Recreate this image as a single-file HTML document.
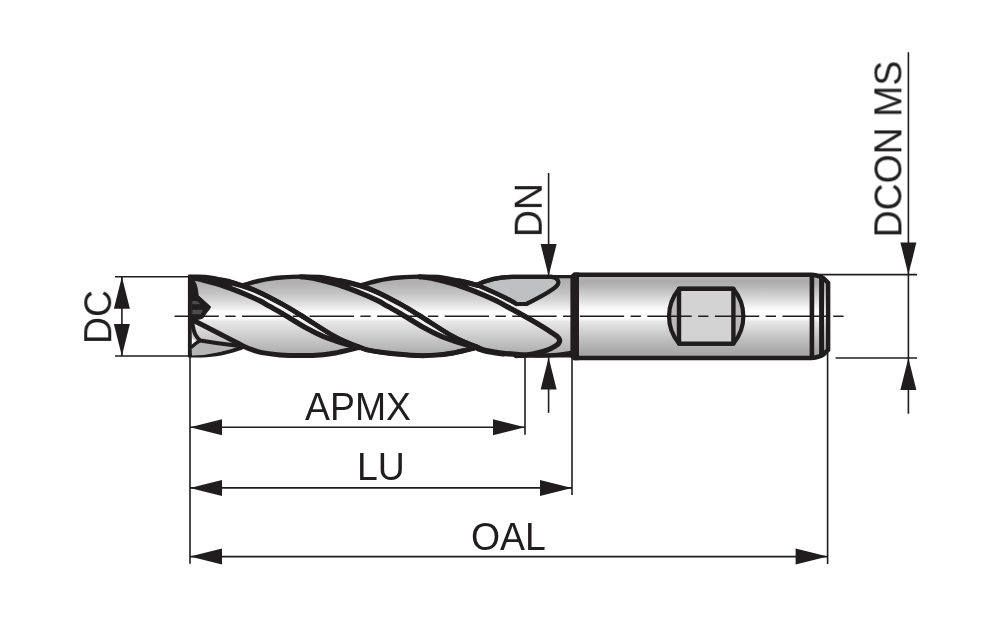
<!DOCTYPE html>
<html lang="en">
<head>
<meta charset="utf-8">
<title>End mill dimensions</title>
<style>
html,body{margin:0;padding:0;background:#fff;}
body{width:1000px;height:617px;overflow:hidden;}
svg{display:block;}
.dim line{stroke:#1f1d1e;stroke-width:1.6;fill:none;}
.arr polygon{fill:#1f1d1e;stroke:none;}
.lbl{opacity:0.999}
.lbl text{font-family:"Liberation Sans",Arial,Helvetica,sans-serif;font-size:37.4px;fill:#1f1d1e;}
</style>
</head>
<body>
<svg width="1000" height="617" viewBox="0 0 1000 617">
<rect x="0" y="0" width="1000" height="617" fill="#ffffff"/>
<defs>
<linearGradient id="gb" x1="0" y1="277" x2="0" y2="356" gradientUnits="userSpaceOnUse">
<stop offset="0" stop-color="#aeaeae"/>
<stop offset="0.08" stop-color="#b2b2b2"/>
<stop offset="0.2" stop-color="#c2c2c2"/>
<stop offset="0.3" stop-color="#d6d6d6"/>
<stop offset="0.39" stop-color="#ededed"/>
<stop offset="0.45" stop-color="#ffffff"/>
<stop offset="0.52" stop-color="#ffffff"/>
<stop offset="0.56" stop-color="#e8e8e8"/>
<stop offset="0.67" stop-color="#d8d8d8"/>
<stop offset="0.81" stop-color="#c4c4c4"/>
<stop offset="0.91" stop-color="#b6b6b6"/>
<stop offset="1" stop-color="#acacac"/>
</linearGradient>
<linearGradient id="gs" x1="0" y1="277" x2="0" y2="356" gradientUnits="userSpaceOnUse">
<stop offset="0" stop-color="#b8b8b8"/>
<stop offset="0.05" stop-color="#ababab"/>
<stop offset="0.1" stop-color="#b2b2b2"/>
<stop offset="0.18" stop-color="#c4c4c4"/>
<stop offset="0.28" stop-color="#dbdbdb"/>
<stop offset="0.37" stop-color="#f1f1f1"/>
<stop offset="0.43" stop-color="#ffffff"/>
<stop offset="0.52" stop-color="#ffffff"/>
<stop offset="0.56" stop-color="#e8e8e8"/>
<stop offset="0.67" stop-color="#d4d4d4"/>
<stop offset="0.81" stop-color="#bcbcbc"/>
<stop offset="0.91" stop-color="#aeaeae"/>
<stop offset="1" stop-color="#a4a4a4"/>
</linearGradient>
</defs>
<g id="tool" stroke="#1f1d1e" stroke-linejoin="round" stroke-linecap="round" fill="none">
<path d="M189.90 276.80 C192.42 276.83 199.90 276.55 205.00 277.00 C210.10 277.45 216.00 278.67 220.50 279.50 C225.00 280.33 228.53 281.15 232.00 282.00 C235.47 282.85 239.75 284.17 241.30 284.60 C243.80 285.02 247.67 283.83 250.30 283.10 C252.93 282.37 255.13 281.70 258.30 281.00 C261.47 280.30 265.47 279.47 269.30 278.90 C273.13 278.32 276.13 277.93 281.30 277.55 C286.47 277.18 293.85 276.73 300.30 276.65 C306.75 276.57 313.33 276.38 320.00 277.05 C326.67 277.73 333.68 279.29 340.30 280.70 C346.92 282.11 356.47 284.70 359.70 285.50 C362.10 285.02 365.97 283.83 368.60 283.10 C371.23 282.37 373.43 281.70 376.60 281.00 C379.77 280.30 383.77 279.47 387.60 278.90 C391.43 278.32 394.43 277.93 399.60 277.55 C404.77 277.18 412.15 276.73 418.60 276.65 C425.05 276.57 431.63 276.38 438.30 277.05 C444.97 277.73 451.98 279.29 458.60 280.70 C465.22 282.11 474.77 284.70 478.00 285.50 C477.83 284.35 480.80 282.52 483.00 281.60 C485.20 280.68 487.17 280.07 490.00 279.40 C492.83 278.73 496.33 278.02 500.00 277.60 C503.67 277.18 510.00 277.02 512.00 276.90 L572 276.8 L572 355.85 L530 355.85 C527.67 355.79 520.42 355.73 516.00 355.50 C511.58 355.27 507.83 354.98 503.50 354.50 C499.17 354.02 494.32 353.47 490.00 352.60 C485.68 351.73 479.67 349.85 477.60 349.30 C475.77 347.85 470.27 349.23 466.60 350.10 C462.93 350.97 459.77 351.83 455.60 352.60 C451.43 353.37 447.77 354.20 441.60 354.70 C435.43 355.20 428.27 355.95 418.60 355.60 C408.93 355.25 392.15 353.57 383.60 352.60 C375.05 351.63 371.30 350.73 367.30 349.80 C363.30 348.87 360.88 347.47 359.60 347.00 C357.47 347.85 351.97 349.23 348.30 350.10 C344.63 350.97 341.47 351.83 337.30 352.60 C333.13 353.37 329.47 354.20 323.30 354.70 C317.13 355.20 309.97 355.95 300.30 355.60 C290.63 355.25 273.85 353.57 265.30 352.60 C256.75 351.63 253.00 350.73 249.00 349.80 C245.00 348.87 242.58 347.47 241.30 347.00 C240.42 348.10 238.55 348.83 236.00 349.60 C233.45 350.37 229.33 351.62 226.00 352.40 C222.67 353.18 219.83 353.78 216.00 354.30 C212.17 354.82 207.35 355.32 203.00 355.50 C198.65 355.68 192.08 355.42 189.90 355.40 Z" fill="url(#gb)" stroke="none"/>
<path d="M222.15 280.70 C225.38 281.50 235.48 283.63 241.55 285.50 C247.62 287.37 251.83 288.83 258.55 291.90 C265.27 294.97 274.87 300.05 281.85 303.90 C288.83 307.75 291.80 309.65 300.45 315.00 C309.10 320.35 327.47 331.93 333.75 336.00 C340.03 340.07 337.42 338.83 338.15 339.40 L338.15 339.40 C337.65 339.63 337.65 341.30 335.15 340.80 C332.65 340.30 327.87 338.48 323.15 336.40 C318.43 334.32 313.73 332.17 306.85 328.30 C299.97 324.43 287.99 316.82 281.85 313.20 C275.71 309.58 273.72 308.68 270.00 306.60 C266.28 304.52 263.62 302.73 259.55 300.70 C255.48 298.67 250.22 296.38 245.55 294.40 C240.88 292.42 236.22 290.55 231.55 288.80 C226.88 287.05 219.88 284.72 217.55 283.90 Z" fill="#f2f2f2" stroke="none"/>
<path d="M340.30 280.70 C343.53 281.50 353.63 283.63 359.70 285.50 C365.77 287.37 369.98 288.83 376.70 291.90 C383.42 294.97 393.02 300.05 400.00 303.90 C406.98 307.75 409.95 309.65 418.60 315.00 C427.25 320.35 445.62 331.93 451.90 336.00 C458.18 340.07 455.57 338.83 456.30 339.40 L456.30 339.40 C455.80 339.63 455.80 341.30 453.30 340.80 C450.80 340.30 446.02 338.48 441.30 336.40 C436.58 334.32 431.88 332.17 425.00 328.30 C418.12 324.43 406.14 316.82 400.00 313.20 C393.86 309.58 391.87 308.68 388.15 306.60 C384.43 304.52 381.78 302.73 377.70 300.70 C373.63 298.67 368.37 296.38 363.70 294.40 C359.03 292.42 354.37 290.55 349.70 288.80 C345.03 287.05 338.03 284.72 335.70 283.90 Z" fill="#f2f2f2" stroke="none"/>
<path d="M458.60 280.70 C461.83 281.50 472.77 283.85 478.00 285.50 C483.23 287.15 485.83 288.75 490.00 290.60 C494.17 292.45 499.00 294.60 503.00 296.60 C507.00 298.60 512.17 301.60 514.00 302.60 L516.00 311.20 C514.50 310.43 510.33 308.35 507.00 306.60 C503.67 304.85 500.17 302.73 496.00 300.70 C491.83 298.67 486.67 296.38 482.00 294.40 C477.33 292.42 472.67 290.55 468.00 288.80 C463.33 287.05 456.33 284.72 454.00 283.90 Z" fill="#f2f2f2" stroke="none"/>
<path d="M476.8 284.9 C488 279.6 498 277.1 512 276.9 L551 276.9 C556.5 277.2 559.6 280.6 557.8 284.4 C555 289.2 545 294.8 526.3 304 L516.5 304 C503 296.6 490 290.6 476.8 284.9 Z" fill="#bfc0c1" stroke-width="4.2"/>
<path d="M191.50 319.40 C193.75 320.55 199.92 323.70 205.00 326.30 C210.08 328.90 216.83 332.35 222.00 335.00 C227.17 337.65 232.50 340.38 236.00 342.20 C239.50 344.02 240.33 344.65 243.00 345.90 C245.67 347.15 248.83 348.58 252.00 349.70 C255.17 350.82 257.33 351.73 262.00 352.60 C266.67 353.47 273.62 354.40 280.00 354.90 C286.38 355.40 293.08 355.63 300.30 355.60 C307.52 355.57 317.13 355.20 323.30 354.70 C329.47 354.20 333.13 353.37 337.30 352.60 C341.47 351.83 344.63 350.97 348.30 350.10 C351.97 349.23 357.47 347.85 359.30 347.40" stroke-width="5.0"/>
<path d="M189.90 355.40 C192.08 355.42 198.65 355.68 203.00 355.50 C207.35 355.32 212.17 354.82 216.00 354.30 C219.83 353.78 222.67 353.18 226.00 352.40 C229.33 351.62 233.45 350.37 236.00 349.60 C238.55 348.83 240.42 348.10 241.30 347.80" stroke-width="4.0"/>
<path d="M189.90 276.80 C192.42 276.83 199.90 276.55 205.00 277.00 C210.10 277.45 216.00 278.67 220.50 279.50 C225.00 280.33 228.49 281.00 232.00 282.00 C235.51 283.00 237.12 283.85 241.55 285.50 C245.98 287.15 251.83 288.83 258.55 291.90 C265.27 294.97 274.87 300.05 281.85 303.90 C288.83 307.75 291.80 309.65 300.45 315.00 C309.10 320.35 325.80 331.37 333.75 336.00 C341.70 340.63 343.92 340.97 348.15 342.80 C352.38 344.63 356.03 345.83 359.15 347.00 C362.27 348.17 362.85 348.87 366.85 349.80 C370.85 350.73 374.60 351.63 383.15 352.60 C391.70 353.57 408.48 355.25 418.15 355.60 C427.82 355.95 434.98 355.20 441.15 354.70 C447.32 354.20 450.98 353.37 455.15 352.60 C459.32 351.83 462.48 350.97 466.15 350.10 C469.82 349.23 475.32 347.85 477.15 347.40" stroke-width="4.4"/>
<path d="M193.15 277.90 C194.88 278.28 199.48 279.20 203.55 280.20 C207.62 281.20 212.88 282.47 217.55 283.90 C222.22 285.33 226.88 287.05 231.55 288.80 C236.22 290.55 240.88 292.42 245.55 294.40 C250.22 296.38 255.48 298.67 259.55 300.70 C263.62 302.73 266.28 304.52 270.00 306.60 C273.72 308.68 275.71 309.58 281.85 313.20 C287.99 316.82 299.97 324.43 306.85 328.30 C313.73 332.17 318.43 334.32 323.15 336.40 C327.87 338.48 330.87 339.37 335.15 340.80 C339.43 342.23 344.85 343.87 348.85 345.00 C352.85 346.13 357.43 347.17 359.15 347.60" stroke-width="5.2"/>
<path d="M196.40 277.78 C197.34 277.89 200.15 278.15 202.03 278.47 C203.90 278.79 205.78 279.28 207.65 279.69 C209.53 280.10 211.40 280.51 213.28 280.94 C215.15 281.36 217.03 281.76 218.90 282.24 C220.78 282.72 222.65 283.27 224.53 283.81 C226.40 284.36 229.21 285.21 230.15 285.49" stroke-width="3.6" stroke-linecap="round"/>
<path d="M303.30 276.87 C304.24 276.93 307.05 277.08 308.93 277.23 C310.80 277.38 312.68 277.57 314.55 277.78 C316.43 277.99 318.30 278.15 320.18 278.47 C322.05 278.79 323.93 279.28 325.80 279.69 C327.68 280.10 329.55 280.51 331.43 280.94 C333.30 281.36 335.18 281.76 337.05 282.24 C338.93 282.72 340.80 283.27 342.68 283.81 C344.55 284.36 347.36 285.21 348.30 285.49" stroke-width="3.6" stroke-linecap="round"/>
<path d="M421.60 276.87 C422.54 276.93 425.35 277.08 427.23 277.23 C429.10 277.38 430.98 277.57 432.85 277.78 C434.73 277.99 436.60 278.15 438.48 278.47 C440.35 278.79 442.23 279.28 444.10 279.69 C445.98 280.10 447.85 280.51 449.73 280.94 C451.60 281.36 453.48 281.76 455.35 282.24 C457.23 282.72 459.10 283.27 460.98 283.81 C462.85 284.36 465.66 285.21 466.60 285.49" stroke-width="3.6" stroke-linecap="round"/>
<path d="M222.15 280.70 C228.77 282.11 235.48 283.63 241.55 285.50 C247.62 287.37 251.83 288.83 258.55 291.90 C265.27 294.97 274.87 300.05 281.85 303.90 C288.83 307.75 291.80 309.65 300.45 315.00 C309.10 320.35 325.80 331.37 333.75 336.00 C341.70 340.63 343.92 340.97 348.15 342.80 C352.38 344.63 356.03 345.83 359.15 347.00 C362.27 348.17 362.85 348.87 366.85 349.80 C370.85 350.73 374.60 351.63 383.15 352.60 C391.70 353.57 408.48 355.25 418.15 355.60 C427.82 355.95 434.98 355.20 441.15 354.70 C447.32 354.20 450.98 353.37 455.15 352.60 C459.32 351.83 462.48 350.97 466.15 350.10 C469.82 349.23 475.32 347.85 477.15 347.40" stroke-width="5.0"/>
<path d="M340.30 280.70 C346.92 282.11 353.63 283.63 359.70 285.50 C365.77 287.37 369.98 288.83 376.70 291.90 C383.42 294.97 393.02 300.05 400.00 303.90 C406.98 307.75 409.95 309.65 418.60 315.00 C427.25 320.35 443.95 331.37 451.90 336.00 C459.85 340.63 462.07 340.97 466.30 342.80 C470.53 344.63 474.18 345.83 477.30 347.00" stroke-width="5.0"/>
<path d="M458.60 280.70 C465.22 282.11 471.93 283.63 478.00 285.50" stroke-width="5.0"/>
<path d="M242.50 285.40 C243.80 285.02 247.67 283.83 250.30 283.10 C252.93 282.37 255.13 281.70 258.30 281.00 C261.47 280.30 265.47 279.47 269.30 278.90 C273.13 278.32 276.13 277.93 281.30 277.55 C286.47 277.18 293.85 276.73 300.30 276.65 C306.75 276.57 313.33 276.38 320.00 277.05 C326.67 277.73 333.68 279.29 340.30 280.70 C346.92 282.11 353.63 283.63 359.70 285.50 C365.77 287.37 369.98 288.83 376.70 291.90 C383.42 294.97 393.02 300.05 400.00 303.90 C406.98 307.75 409.95 309.65 418.60 315.00 C427.25 320.35 443.95 331.37 451.90 336.00 C459.85 340.63 462.07 340.97 466.30 342.80 C470.53 344.63 474.18 345.83 477.30 347.00 C480.42 348.17 481.00 348.87 485.00 349.80 C489.00 350.73 492.75 351.63 501.30 352.60 C509.85 353.57 526.63 355.25 536.30 355.60 C545.97 355.95 553.13 355.20 559.30 354.70 C565.47 354.20 569.13 353.37 573.30 352.60 C577.47 351.83 580.63 350.97 584.30 350.10 C587.97 349.23 593.47 347.85 595.30 347.40" stroke-width="4.4"/>
<path d="M301.30 276.80 C302.97 276.98 307.90 277.33 311.30 277.90 C314.70 278.47 317.63 279.20 321.70 280.20 C325.77 281.20 331.03 282.47 335.70 283.90 C340.37 285.33 345.03 287.05 349.70 288.80 C354.37 290.55 359.03 292.42 363.70 294.40 C368.37 296.38 373.63 298.67 377.70 300.70 C381.78 302.73 384.43 304.52 388.15 306.60 C391.87 308.68 393.86 309.58 400.00 313.20 C406.14 316.82 418.12 324.43 425.00 328.30 C431.88 332.17 436.58 334.32 441.30 336.40 C446.02 338.48 449.02 339.37 453.30 340.80 C457.58 342.23 463.00 343.87 467.00 345.00 C471.00 346.13 475.58 347.17 477.30 347.60" stroke-width="5.2"/>
<path d="M360.80 285.40 C362.10 285.02 365.97 283.83 368.60 283.10 C371.23 282.37 373.43 281.70 376.60 281.00 C379.77 280.30 383.77 279.47 387.60 278.90 C391.43 278.32 394.43 277.93 399.60 277.55 C404.77 277.18 412.15 276.73 418.60 276.65 C425.05 276.57 431.63 276.38 438.30 277.05 C444.97 277.73 451.98 279.29 458.60 280.70 C465.22 282.11 472.77 283.85 478.00 285.50 C483.23 287.15 485.83 288.75 490.00 290.60 C494.17 292.45 499.33 294.83 503.00 296.60 C506.67 298.37 509.75 299.97 512.00 301.20 C514.25 302.43 515.75 303.53 516.50 304.00" stroke-width="4.4"/>
<path d="M419.60 276.80 C421.27 276.98 426.20 277.33 429.60 277.90 C433.00 278.47 435.93 279.20 440.00 280.20 C444.07 281.20 449.33 282.47 454.00 283.90 C458.67 285.33 463.33 287.05 468.00 288.80 C472.67 290.55 477.33 292.42 482.00 294.40 C486.67 296.38 491.83 298.67 496.00 300.70 C500.17 302.73 503.00 304.45 507.00 306.60 C511.00 308.75 515.95 311.37 520.00 313.60 C524.05 315.83 527.47 317.77 531.30 320.00 C535.13 322.23 539.55 324.87 543.00 327.00 C546.45 329.13 549.57 331.17 552.00 332.80 C554.43 334.43 556.33 335.62 557.60 336.80 C558.87 337.98 559.40 338.87 559.60 339.90 C559.80 340.93 559.40 342.05 558.80 343.00 C558.20 343.95 557.72 344.50 556.00 345.60 C554.28 346.70 551.50 348.40 548.50 349.60 C545.50 350.80 541.50 351.93 538.00 352.80 C534.50 353.67 531.17 354.33 527.50 354.80 C523.83 355.27 517.92 355.47 516.00 355.60" stroke-width="5.2"/>
<path d="M476.8 284.9 C488 279.6 498 277.1 512 276.9 L552 276.9" stroke-width="4.2"/>
<path d="M548 276.65 L572 276.65" stroke-width="3.3" stroke-linecap="butt"/>
<path d="M477.60 349.30 C479.67 349.85 485.68 351.73 490.00 352.60 C494.32 353.47 501.25 354.18 503.50 354.50" stroke-width="4.0"/>
<path d="M503.50 354.50 C505.58 354.67 511.58 355.27 516.00 355.50 C520.42 355.73 527.67 355.79 530.00 355.85 L572 355.85" stroke-width="3.3" stroke-linecap="butt"/>
<path d="M189.8 276.8 L189.8 355.4" stroke-width="3.8" stroke-linecap="square"/>
<path d="M190 277 L193.5 279.5 C196 283 197.6 288 198.2 295.5 L210.6 306.8 C210.2 309 205.6 313.2 203.8 316.8 L202.2 318.5 L192 320.5 Z" fill="#1f1d1e" stroke-width="1"/>
<path d="M192.3 301.0 L197 301.0 L200.3 304.2 L192.3 304.2 Z M192.3 309.8 L203 309.8 L200.8 314.2 L192.3 314.2 Z" fill="#4c4c4c" stroke="none"/>
<path d="M192 347 L200.3 341 L236 345.5 L232 348.5 L220 352 L204 355 L192 355.5 Z" fill="#b6b6b6" stroke="none"/>
<path d="M192.2 320.9 C192.6 326 193.6 331 195.4 334.6 C196.8 337.2 198.4 339 200.3 340.6 L218 343.2 L238 345.8" fill="none" stroke-width="4.0"/>
<path d="M192 346.8 C194.6 344.4 197.4 342.2 200.3 340.6" stroke-width="3.4"/>
<path d="M192.0 338.0 L195.8 341.0 L192.0 344.0 Z" fill="#ffffff" stroke="none"/>
</g>
<g stroke="#1f1d1e" stroke-linejoin="round" fill="none">
<path d="M574.7 274.7 L811.7 274.7 C817 275.2 821 276.5 823.5 278.3 L828.1 282.8 L828.1 349.9 L823.5 354.4 C821 356.2 817 357.5 811.7 358 L574.7 358 Z" fill="url(#gs)" stroke-width="4.5"/>
<path d="M570.4 275.4 L573.6 272.45 L579 272.45 L579 360.25 L573.6 360.25 L570.4 357.3 Z" fill="#1f1d1e" stroke="none"/>
<path d="M811.9 274.7 L811.9 358" stroke-width="4.6"/>
<path d="M821.6 278 L821.6 354.7" stroke-width="5.0"/>
<path d="M679 288.8 C665.7 305 665.7 327.4 679 343.6 L733.4 343.6 C746.7 327.4 746.7 305 733.4 288.8 Z" fill="#b9b9b9" stroke-width="4.2"/>
<rect x="679" y="288.8" width="54.4" height="54.8" fill="#d3d3d3" stroke-width="4.4"/>
</g>
<line x1="174.5" y1="316.3" x2="844.6" y2="316.3" stroke="#1f1d1e" stroke-width="1.6" stroke-dasharray="44.35 6.43 10.34 6.43"/>
<g class="dim">
<line x1="190.00" y1="357.00" x2="190.00" y2="563.80"/>
<line x1="525.00" y1="357.00" x2="525.00" y2="434.80"/>
<line x1="572.00" y1="357.00" x2="572.00" y2="495.00"/>
<line x1="827.60" y1="352.00" x2="827.60" y2="564.00"/>
<line x1="190.00" y1="427.30" x2="525.00" y2="427.30"/>
<line x1="190.00" y1="487.90" x2="572.00" y2="487.90"/>
<line x1="190.00" y1="556.60" x2="827.60" y2="556.60"/>
<line x1="115.00" y1="276.80" x2="190.00" y2="276.80"/>
<line x1="115.00" y1="356.00" x2="190.00" y2="356.00"/>
<line x1="121.90" y1="276.80" x2="121.90" y2="356.00"/>
<line x1="548.60" y1="173.00" x2="548.60" y2="276.00"/>
<line x1="548.60" y1="357.00" x2="548.60" y2="412.80"/>
<line x1="813.00" y1="274.60" x2="917.00" y2="274.60"/>
<line x1="835.60" y1="358.00" x2="917.00" y2="358.00"/>
<line x1="908.40" y1="52.30" x2="908.40" y2="413.80"/>
</g>
<g class="arr">
<polygon points="190.00,427.30 222.00,419.30 222.00,435.30"/>
<polygon points="525.00,427.30 493.00,419.30 493.00,435.30"/>
<polygon points="190.00,487.90 222.00,479.90 222.00,495.90"/>
<polygon points="572.00,487.90 540.00,479.90 540.00,495.90"/>
<polygon points="190.00,556.60 222.00,548.60 222.00,564.60"/>
<polygon points="827.60,556.60 795.60,548.60 795.60,564.60"/>
<polygon points="121.90,276.80 113.90,308.80 129.90,308.80"/>
<polygon points="121.90,356.00 113.90,324.00 129.90,324.00"/>
<polygon points="548.60,276.00 540.60,244.00 556.60,244.00"/>
<polygon points="548.60,357.50 540.60,389.50 556.60,389.50"/>
<polygon points="908.40,274.60 900.40,242.60 916.40,242.60"/>
<polygon points="908.40,358.00 900.40,390.00 916.40,390.00"/>
</g>
<g class="lbl">
<text transform="translate(305.00 420.20) scale(1 1.045)">APMX</text>
<text transform="translate(357.00 480.20) scale(1 1.045)">LU</text>
<text transform="translate(471.00 549.80) scale(1 1.045)">OAL</text>
<text transform="translate(110.80 344.00) rotate(-90) scale(1 1.045)">DC</text>
<text transform="translate(541.30 237.10) rotate(-90) scale(1 1.045)">DN</text>
<text transform="translate(901.00 237.40) rotate(-90) scale(1 1.045)">DCON MS</text>
</g>
</svg>
</body>
</html>
